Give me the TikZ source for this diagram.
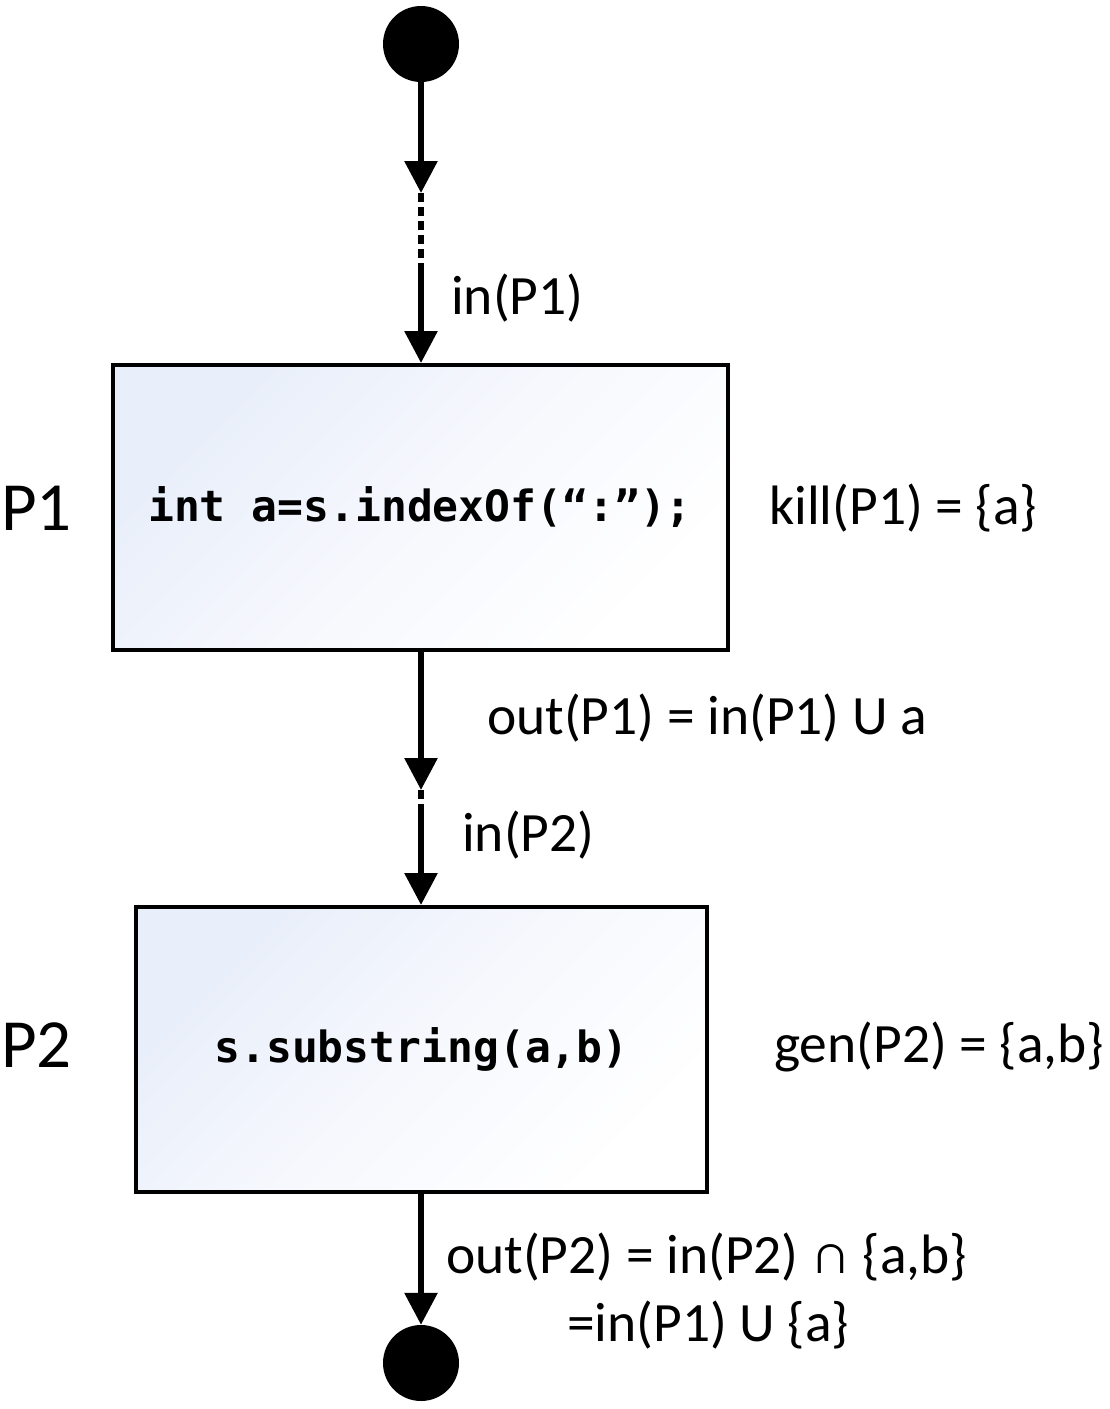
\documentclass[tikz,border=0pt]{standalone}
\usepackage{fontspec}
\setmainfont{Carlito}
\newfontfamily\codefont{DejaVu Sans Mono}
\usetikzlibrary{arrows.meta}
\definecolor{boxblue}{RGB}{232,238,250}
\definecolor{boxmid}{RGB}{246,248,253}
\tikzset{
  flow/.style={line width=6pt, -{Triangle[length=32pt,width=32pt]}},
  dotseg/.style={line width=6pt, dash pattern=on 9pt off 5pt},
  blob/.style={circle, fill=black, draw=none, minimum size=76pt, inner sep=0pt},
  stmt/.style={draw=black, line width=4pt, top color=boxblue, bottom color=white, middle color=boxmid, shading angle=45, inner sep=0pt,
    font=\codefont\bfseries\fontsize{43}{50}\selectfont},
  lbl/.style={inner sep=0pt, anchor=west, font=\fontsize{55.5}{62}\selectfont},
  plbl/.style={inner sep=0pt, anchor=west, font=\fontsize{69}{76}\selectfont}
}
\begin{document}
\begin{tikzpicture}[x=1pt,y=-1pt]
\useasboundingbox (0,0) rectangle (1110,1409);
\node[blob] (s) at (421,44) {};
\node[stmt, minimum width=615pt, minimum height=285pt] (b1) at (420,507.5) {int a=s.indexOf(“:”);};
\node[stmt, minimum width=571pt, minimum height=285pt] (b2) at (421.5,1049.5) {s.substring(a,b)};
\node[blob] (e) at (421,1363) {};
\coordinate (m1a) at (421,193);
\coordinate (m1b) at (421,265);
\coordinate (m2a) at (421,790);
\coordinate (m2b) at (421,806);
\draw[flow] (s) -- (m1a);
\draw[dotseg] (m1a) -- (m1b);
\draw[flow] (m1b) -- (m1b |- b1.north);
\draw[flow] (b1.south -| m2a) -- (m2a);
\draw[dotseg] (m2a) -- (m2b);
\draw[flow] (m2b) -- (m2b |- b2.north);
\draw[flow] (b2.south -| e) -- (e);
\node[lbl] (l1) at (451,298) {in(P1)};
\node[plbl] (p1) at (1,508) {P1};
\node[lbl] (k1) at (769,508) {kill(P1) = \{a\}};
\node[lbl] (o1) at (487,718) {out(P1) = in(P1) U a};
\node[lbl] (l2) at (462,835) {in(P2)};
\node[plbl] (p2) at (1,1045) {P2};
\node[lbl] (g2) at (774,1047) {gen(P2) = \{a,b\}};
\node[lbl] (o2) at (446,1257) {out(P2) = in(P2) ∩ \{a,b\}};
\node[lbl] (o3) at (567,1325) {=in(P1) U \{a\}};
\end{tikzpicture}
\end{document}
